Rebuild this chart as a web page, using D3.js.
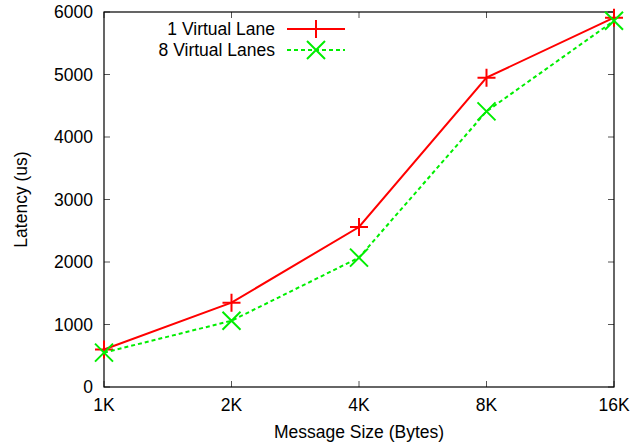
<!DOCTYPE html>
<html>
<head>
<meta charset="utf-8">
<script src="https://cdn.jsdelivr.net/npm/d3@7"></script>
<style>
  body { margin: 0; background: #fff; }
  svg { display: block; }
</style>
</head>
<body>
<div id="chart"></div>
<script>
// Latency vs message size
const sizes = ["1K", "2K", "4K", "8K", "16K"];
const oneLane = [600, 1350, 2560, 4950, 5910];
const eightLanes = [550, 1060, 2070, 4410, 5860];
const yTicks = [0, 1000, 2000, 3000, 4000, 5000, 6000];

const width = 641, height = 447;
const margin = { top: 12, right: 27, bottom: 60, left: 104 };
const font = "'Liberation Sans', Arial, Helvetica, sans-serif";
const fs = "17.5px";

const svg = d3.select("#chart")
    .append("svg")
    .attr("width", width)
    .attr("height", height);

const x = d3.scalePoint()
    .domain(sizes)
    .range([margin.left, width - margin.right]);

const y = d3.scaleLinear()
    .domain([0, 6000])
    .range([height - margin.bottom, margin.top]);

const x0 = margin.left, x1 = width - margin.right;
const y0 = height - margin.bottom, y1 = margin.top;
const tickLen = 6;

// inward ticks on all four sides
const ticks = svg.append("g").attr("stroke", "#555").attr("stroke-width", 1);
sizes.forEach(s => {
    ticks.append("line").attr("x1", x(s)).attr("x2", x(s)).attr("y1", y0).attr("y2", y0 - tickLen);
    ticks.append("line").attr("x1", x(s)).attr("x2", x(s)).attr("y1", y1).attr("y2", y1 + tickLen);
});
yTicks.forEach(v => {
    ticks.append("line").attr("x1", x0).attr("x2", x0 + tickLen).attr("y1", y(v)).attr("y2", y(v));
    ticks.append("line").attr("x1", x1).attr("x2", x1 - tickLen).attr("y1", y(v)).attr("y2", y(v));
});

svg.append("rect")
    .attr("x", x0).attr("y", y1)
    .attr("width", x1 - x0).attr("height", y0 - y1)
    .attr("fill", "none")
    .attr("stroke", "#000")
    .attr("stroke-width", 1.2);

// tick labels
svg.append("g").selectAll("text")
    .data(sizes)
    .join("text")
    .attr("x", d => x(d))
    .attr("y", y0 + 24)
    .attr("text-anchor", "middle")
    .attr("font-family", font)
    .attr("font-size", fs)
    .text(d => d);

svg.append("g").selectAll("text")
    .data(yTicks)
    .join("text")
    .attr("x", x0 - 11)
    .attr("y", d => y(d) + 6)
    .attr("text-anchor", "end")
    .attr("font-family", font)
    .attr("font-size", fs)
    .text(d => d);

// axis titles
svg.append("text")
    .attr("x", (x0 + x1) / 2)
    .attr("y", 438)
    .attr("text-anchor", "middle")
    .attr("font-family", font)
    .attr("font-size", fs)
    .text("Message Size (Bytes)");

svg.append("text")
    .attr("transform", `translate(27, ${(y0 + y1) / 2}) rotate(-90)`)
    .attr("text-anchor", "middle")
    .attr("font-family", font)
    .attr("font-size", fs)
    .text("Latency (us)");

const series = [
    { name: "1 Virtual Lane", values: oneLane, color: "#ff0000", dash: null, marker: "plus" },
    { name: "8 Virtual Lanes", values: eightLanes, color: "#00ee00", dash: "4,3", marker: "cross" }
];

const line = d3.line().x(d => d[0]).y(d => d[1]);
const m = 9;

function drawMarker(g, type, cx, cy, color) {
    if (type === "plus") {
        g.append("path")
            .attr("d", `M${cx - m},${cy}H${cx + m}M${cx},${cy - m}V${cy + m}`)
            .attr("stroke", color).attr("stroke-width", 2).attr("fill", "none");
    } else {
        g.append("path")
            .attr("d", `M${cx - m},${cy - m}L${cx + m},${cy + m}M${cx - m},${cy + m}L${cx + m},${cy - m}`)
            .attr("stroke", color).attr("stroke-width", 2).attr("fill", "none");
    }
}

series.forEach((s, i) => {
    const pts = sizes.map((k, j) => [x(k), y(s.values[j])]);
    const g = svg.append("g");
    g.append("path")
        .attr("d", line(pts))
        .attr("fill", "none")
        .attr("stroke", s.color)
        .attr("stroke-width", 2)
        .attr("stroke-dasharray", s.dash);
    pts.forEach(p => drawMarker(g, s.marker, p[0], p[1], s.color));

    // legend
    const ly = 29 + i * 21;
    svg.append("text")
        .attr("x", 275)
        .attr("y", ly + 6)
        .attr("text-anchor", "end")
        .attr("font-family", font)
        .attr("font-size", fs)
        .text(s.name);
    svg.append("line")
        .attr("x1", 287).attr("x2", 345)
        .attr("y1", ly).attr("y2", ly)
        .attr("stroke", s.color)
        .attr("stroke-width", 2)
        .attr("stroke-dasharray", s.dash);
    drawMarker(svg, s.marker, 316, ly, s.color);
});
</script>
</body>
</html>
